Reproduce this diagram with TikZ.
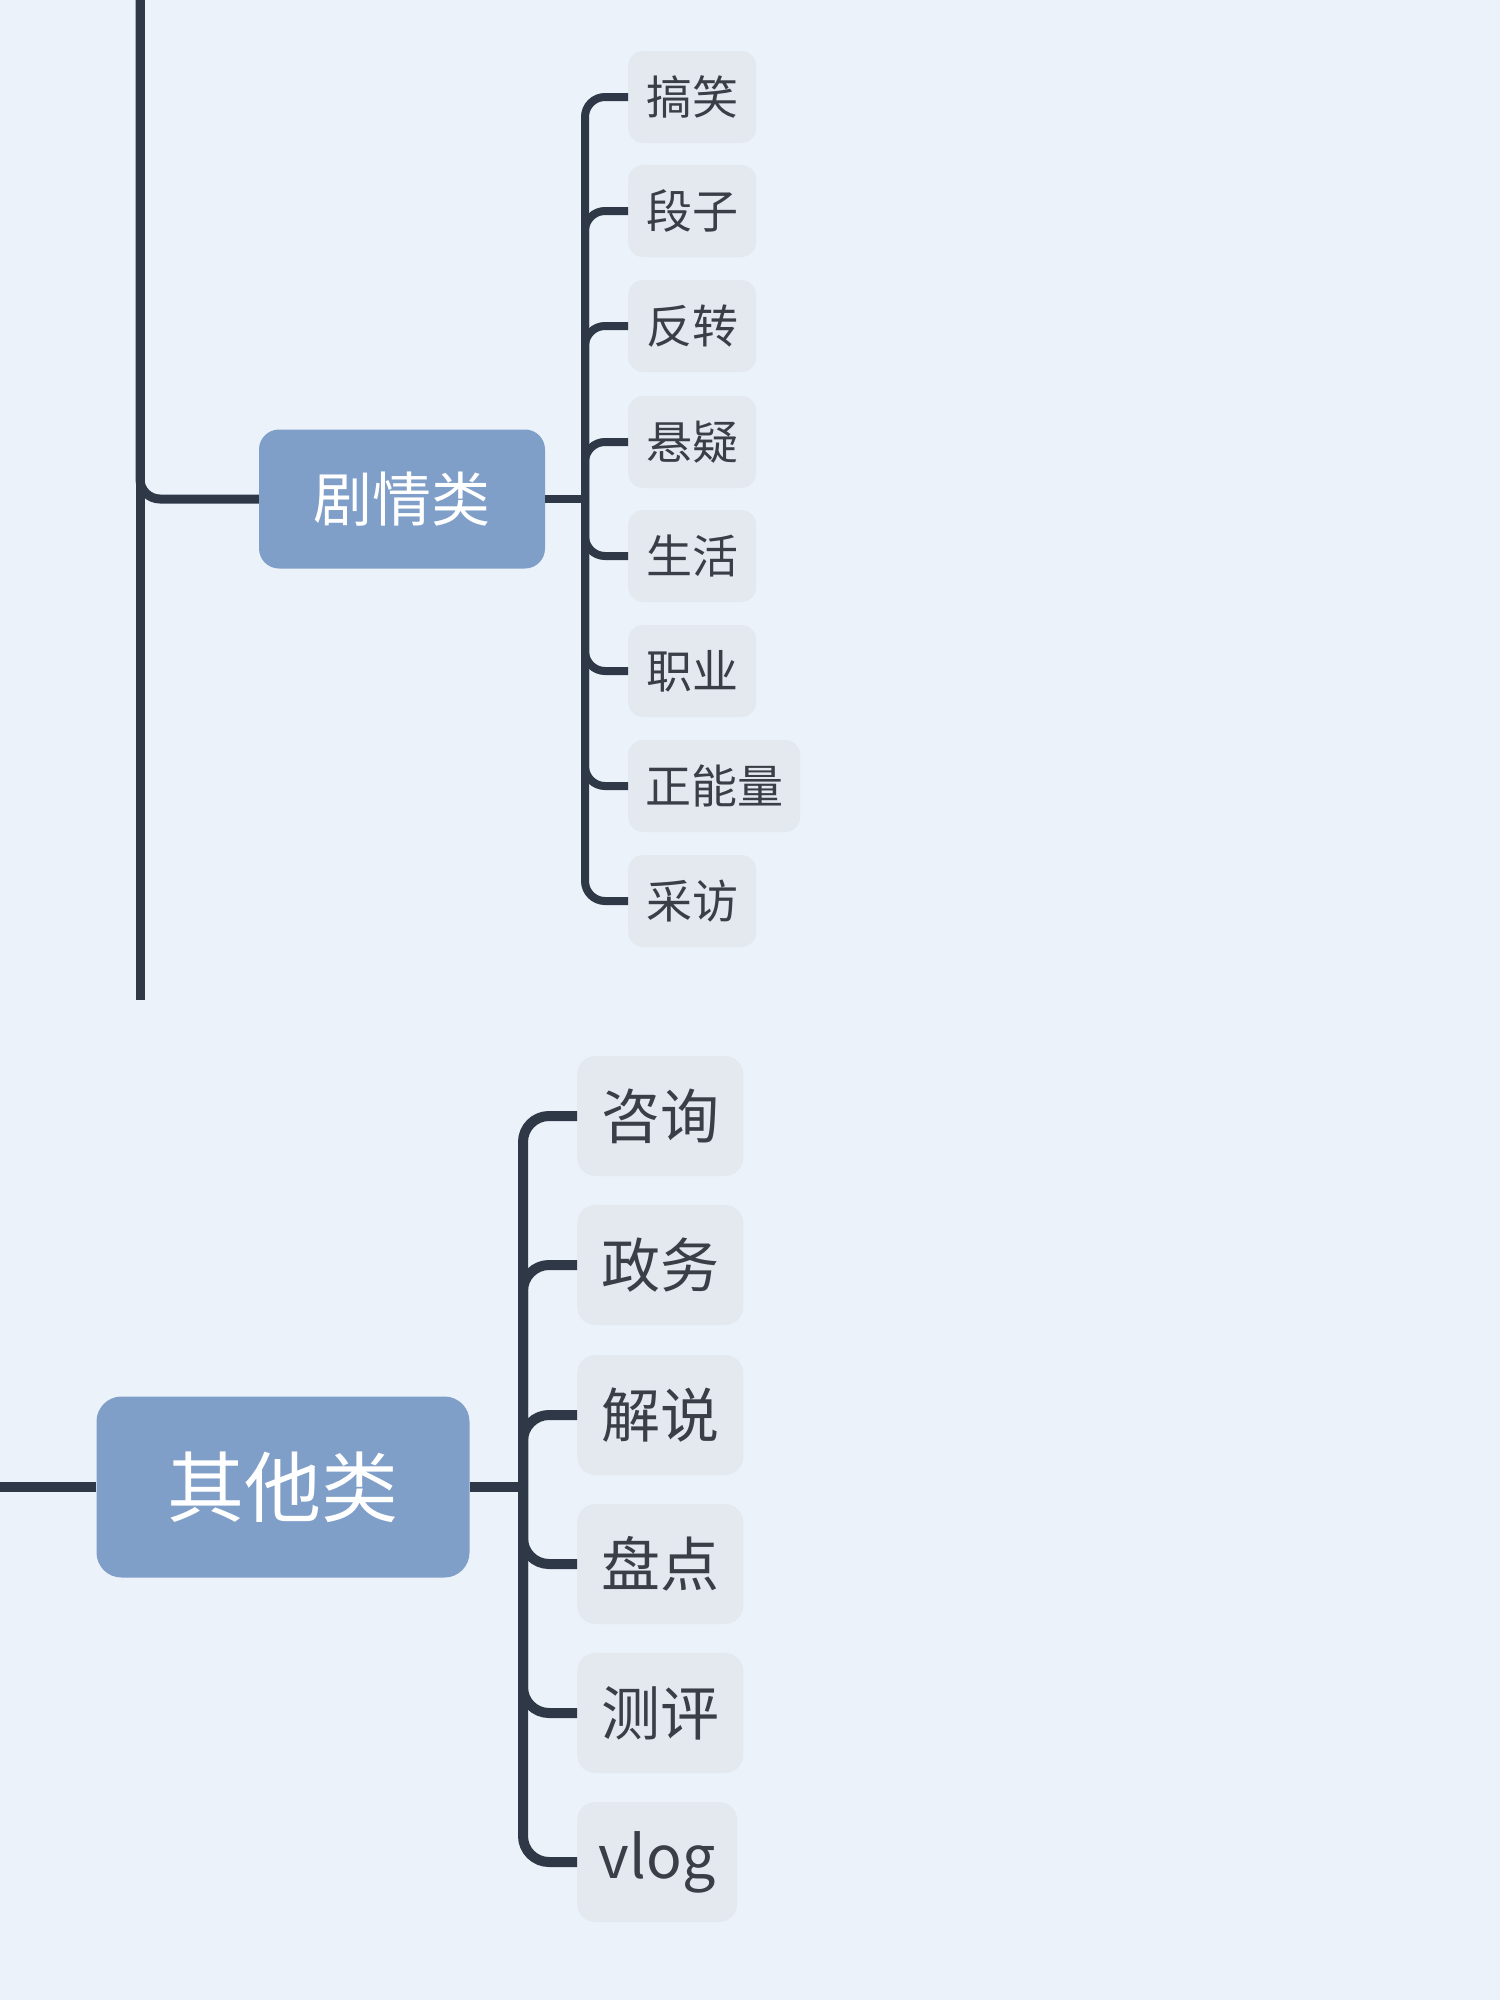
\documentclass[tikz,border=0pt]{standalone}
\usepackage{fontspec}
\setmainfont{Noto Sans CJK SC}
\definecolor{bgc}{HTML}{EBF2FA}
\definecolor{catc}{HTML}{809FC8}
\definecolor{leafc}{HTML}{E4E9F0}
\definecolor{linec}{HTML}{2E3846}
\definecolor{leaftxt}{HTML}{3A3F47}
\begin{document}
\begin{tikzpicture}[x=1pt,y=-1pt,
  cat/.style={fill=catc, rounded corners=20pt, text=white, inner sep=0pt},
  leaf/.style={fill=leafc, rounded corners=15pt, text=leaftxt, inner sep=0pt},
  conn/.style={draw=linec, line width=#1, rounded corners=20pt},
  conn/.default=8pt]
\useasboundingbox (0,0) rectangle (1500,2000);
\fill[bgc] (0,0) rectangle (1500,2000);

% ---- top section ----
\coordinate (mtop) at (140,0);
\coordinate (mbot) at (140,1000);
\node[cat, minimum width=286pt, minimum height=139pt, font=\fontsize{59}{59}\selectfont] (jq) at (402,499) {剧情类};
\coordinate (v1) at (585,499);
\foreach \n/\t/\y/\w in {a/搞笑/97/128, b/段子/211/128, c/反转/326/128, d/悬疑/442/128, e/生活/556/128, f/职业/671/128, g/正能量/786/172, h/采访/901/128}{
  \node[leaf, minimum width=\w pt, minimum height=92pt, anchor=west, font=\fontsize{46}{46}\selectfont] (t\n) at (628,\y) {\t};
  \draw[conn] (v1) |- (t\n.west);
}
\draw[conn] (jq.east) -- (v1);
\draw[draw=linec, line width=9pt] (mtop) -- (mbot);
\draw[conn=9pt] (mtop) |- (jq.west);

% ---- bottom section ----
\node[cat, rounded corners=25pt, minimum width=373pt, minimum height=181pt, font=\fontsize{77}{77}\selectfont] (qt) at (283,1487) {其他类};
\coordinate (lft) at (0,1487);
\coordinate (v2) at (523,1487);
\foreach \n/\t/\y/\w in {a/咨询/1116/166, b/政务/1265/166, c/解说/1415/166, d/盘点/1564/166, e/测评/1713/166, f/vlog/1862/160}{
  \node[leaf, rounded corners=18pt, minimum width=\w pt, minimum height=120pt, anchor=west, font=\fontsize{59}{59}\selectfont] (b\n) at (577,\y) {\t};
  \draw[conn=10pt, rounded corners=26pt] (v2) |- (b\n.west);
}
\draw[conn=10pt] (qt.east) -- (v2);
\draw[conn=10pt] (lft) -- (qt.west);
\end{tikzpicture}
\end{document}
